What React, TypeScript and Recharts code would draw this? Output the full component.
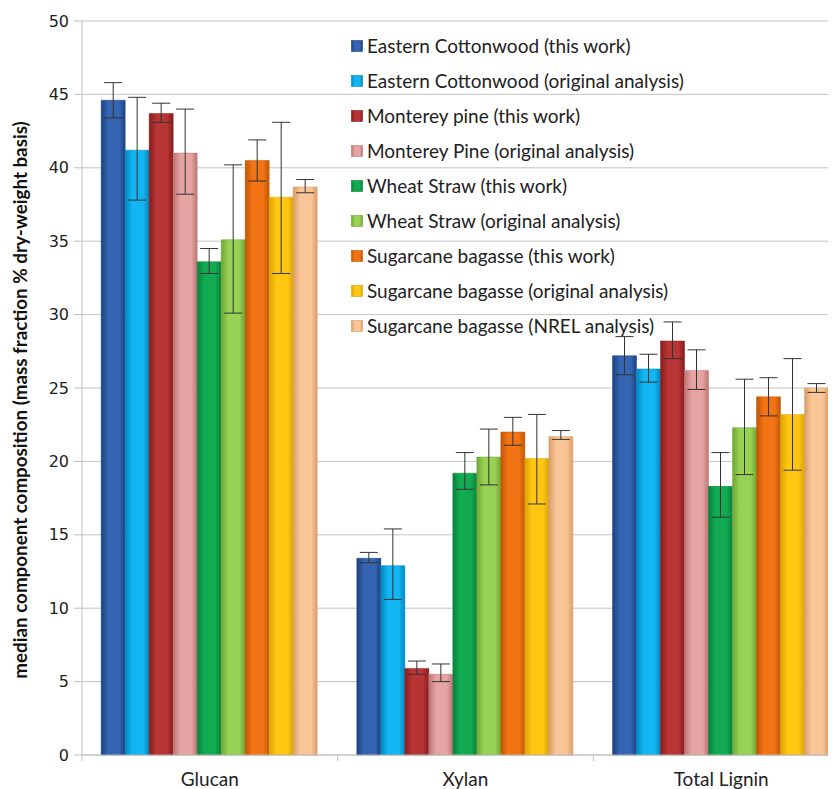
import React from "react";
import {
  BarChart,
  Bar,
  XAxis,
  YAxis,
  CartesianGrid,
  ErrorBar,
  Legend,
} from "recharts";

// each entry: [median, error low, error high] per category
const categories = ["Glucan", "Xylan", "Total Lignin"];
const yTicks = [0, 5, 10, 15, 20, 25, 30, 35, 40, 45, 50];

const seriesNames = [
  "Eastern Cottonwood (this work)",
  "Eastern Cottonwood (original analysis)",
  "Monterey pine (this work)",
  "Monterey Pine (original analysis)",
  "Wheat Straw (this work)",
  "Wheat Straw (original analysis)",
  "Sugarcane bagasse (this work)",
  "Sugarcane bagasse (original analysis)",
  "Sugarcane bagasse (NREL analysis)",
];

const cottonwoodThis = [[44.6, 43.4, 45.8], [13.4, 13.1, 13.8], [27.2, 25.9, 28.5]];
const cottonwoodOrig = [[41.2, 37.8, 44.8], [12.9, 10.6, 15.4], [26.3, 25.4, 27.3]];
const pineThis = [[43.7, 43.1, 44.4], [5.9, 5.5, 6.4], [28.2, 27.0, 29.5]];
const pineOrig = [[41.0, 38.2, 44.0], [5.5, 5.0, 6.2], [26.2, 24.9, 27.6]];
const wheatThis = [[33.6, 32.8, 34.5], [19.2, 18.1, 20.6], [18.3, 16.2, 20.6]];
const wheatOrig = [[35.1, 30.1, 40.2], [20.3, 18.4, 22.2], [22.3, 19.1, 25.6]];
const bagasseThis = [[40.5, 39.1, 41.9], [22.0, 21.1, 23.0], [24.4, 23.1, 25.7]];
const bagasseOrig = [[38.0, 32.8, 43.1], [20.2, 17.1, 23.2], [23.2, 19.4, 27.0]];
const bagasseNrel = [[38.7, 38.3, 39.2], [21.7, 21.5, 22.1], [25.0, 24.7, 25.3]];

const seriesValues = [
  cottonwoodThis,
  cottonwoodOrig,
  pineThis,
  pineOrig,
  wheatThis,
  wheatOrig,
  bagasseThis,
  bagasseOrig,
  bagasseNrel,
];

// base / shade colours for the cylinder look
const colors = [
  ["#3565b2", "#1c417f"],
  ["#12b6f2", "#0088c0"],
  ["#b93434", "#841c1c"],
  ["#e5a3a3", "#bd7474"],
  ["#12ab52", "#08803a"],
  ["#98d255", "#6ea634"],
  ["#f27414", "#c05606"],
  ["#ffc612", "#dca400"],
  ["#fac697", "#d99c68"],
];

const data = categories.map((name, ci) => {
  const row: Record<string, any> = { name };
  seriesValues.forEach((s, si) => {
    const [v, lo, hi] = s[ci];
    row["s" + si] = v;
    row["e" + si] = [+(v - lo).toFixed(2), +(hi - v).toFixed(2)];
  });
  return row;
});

const WIDTH = 841;
const HEIGHT = 781;
const Y_AXIS_W = 74;
const HALF_BAND = (WIDTH - Y_AXIS_W) / categories.length / 2;

const CategoryTick = (props: any) => {
  const { x, y, payload } = props;
  return (
    <g>
      <line x1={x - HALF_BAND} x2={x - HALF_BAND} y1={y} y2={y + 6} stroke="#bfbfbf" />
      <text
        x={x}
        y={y + 31}
        textAnchor="middle"
        fill="#222"
        fontSize={19}
        fontFamily="Lato, sans-serif"
      >
        {payload.value}
      </text>
    </g>
  );
};

const YLabel = (props: any) => {
  const { viewBox } = props;
  const cx = viewBox.x + 11;
  const cy = viewBox.y + viewBox.height / 2 + 12;
  return (
    <text
      x={cx}
      y={cy}
      transform={`rotate(-90, ${cx}, ${cy})`}
      textAnchor="middle"
      dominantBaseline="central"
      fontFamily="Lato, sans-serif"
      fontWeight={700}
      fontSize={18.8}
      fill="#111"
    >
      median component composition (mass fraction % dry-weight basis)
    </text>
  );
};

const LegendBox = () => (
  <div style={{ fontFamily: "Lato, sans-serif", fontSize: 19, color: "#222" }}>
    {seriesNames.map((n, i) => (
      <div key={n} style={{ height: 35, display: "flex", alignItems: "center", whiteSpace: "nowrap" }}>
        <svg width={16} height={12} style={{ marginRight: 0 }}>
          <rect x={0.5} y={0.5} width={11} height={11} fill={`url(#g${i})`} stroke={colors[i][1]} strokeWidth={0.6} />
        </svg>
        <span>{n}</span>
      </div>
    ))}
  </div>
);

export default function App() {
  return (
    <div style={{ width: 828, height: 781, overflow: "hidden" }}>
      <BarChart
        width={WIDTH}
        height={HEIGHT}
        data={data}
        margin={{ top: 13, right: 0, left: 0, bottom: 0 }}
        barCategoryGap="7.5%"
        barGap={0}
      >
        <defs>
          {colors.map(([base, dark], i) => (
            <linearGradient key={i} id={`g${i}`} x1="0" x2="1" y1="0" y2="0">
              <stop offset="0%" stopColor={dark} />
              <stop offset="30%" stopColor={base} />
              <stop offset="75%" stopColor={base} />
              <stop offset="100%" stopColor={dark} />
            </linearGradient>
          ))}
        </defs>
        <CartesianGrid vertical={false} stroke="#c4c4c4" />
        <XAxis
          dataKey="name"
          height={34}
          tickSize={0}
          tickMargin={0}
          tickLine={false}
          axisLine={{ stroke: "#bfbfbf" }}
          tick={<CategoryTick />}
          interval={0}
        />
        <YAxis
          width={Y_AXIS_W}
          domain={[0, 50]}
          ticks={yTicks}
          interval={0}
          tickSize={8}
          tickMargin={5}
          axisLine={{ stroke: "#bfbfbf" }}
          tickLine={{ stroke: "#bfbfbf" }}
          tick={{ fill: "#222", fontSize: 16, fontFamily: "DejaVu Sans, sans-serif" }}
          label={<YLabel />}
        />
        <Legend
          content={<LegendBox />}
          layout="vertical"
          align="center"
          verticalAlign="middle"
          wrapperStyle={{ left: 343, top: 20, width: 400 }}
        />
        {seriesNames.map((n, i) => (
          <Bar
            key={n}
            name={n}
            dataKey={"s" + i}
            fill={`url(#g${i})`}
            stroke={colors[i][1]}
            strokeWidth={0.5}
            isAnimationActive={false}
          >
            <ErrorBar dataKey={"e" + i} width={9} stroke="#333" strokeWidth={1} direction="y" />
          </Bar>
        ))}
      </BarChart>
    </div>
  );
}
